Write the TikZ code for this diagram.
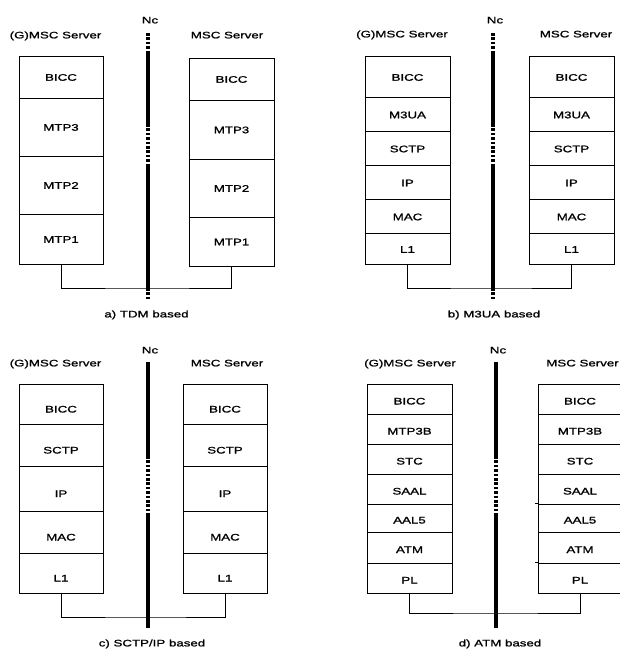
\documentclass[tikz,border=0pt]{standalone}
\usepackage{fontspec}
\setmainfont{Liberation Sans}[FakeStretch=1.4, FakeBold=1.2]
\tikzset{
  txt/.style={font=\fontsize{9.5}{11}\selectfont, inner sep=0pt, text height=6.8pt, text depth=0pt},
  layer/.style={txt, draw, line width=0.9pt},
  conn/.style={line width=0.9pt},
  nc/.style={line width=3.5pt},
  ncdash/.style={line width=3.5pt, dash pattern=on 2.6pt off 1.8pt},
}
% #1 prefix, #2 x centre, #3 width, #4 text height, #5 list top/bottom/text
\newcommand\layerstack[5]{%
  \foreach \t/\b/\s [count=\i] in {#5} {
    \node[layer, minimum width=#3, minimum height={\b-\t}, text height=#4] (#1\i) at (#2, {(\t+\b)/2}) {\s};
  }}
\begin{document}
\begin{tikzpicture}[x=1pt, y=-1pt]
\useasboundingbox (0,0) rectangle (620,650);
\clip (0,0) rectangle (620,650);

% ---------------- a) TDM based ----------------
\node[txt] (aTL) at (55.5,35) {(G)MSC Server};
\node[txt] (aTR) at (227,35) {MSC Server};
\node[txt] (aNc) at (150,20) {Nc};
\layerstack{aL}{61}{84}{7.5pt}{56/98/BICC,98/156/MTP3,156/214/MTP2,214/264/MTP1}
\layerstack{aR}{231.5}{85}{7.5pt}{58/100/BICC,100/159/MTP3,159/217/MTP2,217/266/MTP1}
\coordinate (aJ) at (148,288);
\draw[conn] (aL4.south) |- (aJ) -| (aR4.south);
\draw[ncdash] (148,33) -- (148,52);
\draw[nc] (148,52) -- (148,124);
\draw[ncdash] (148,124) -- (148,166);
\draw[nc] (148,166) -- (148,288);
\draw[ncdash] (148,288) -- (148,299);
\node[txt] (aCap) at (146.5,314) {a) TDM based};

% ---------------- b) M3UA based ----------------
\node[txt] (bTL) at (402,34) {(G)MSC Server};
\node[txt] (bTR) at (576,34) {MSC Server};
\node[txt] (bNc) at (495,20) {Nc};
\layerstack{bL}{407.5}{85}{8.5pt}{56/97/BICC,97/131/M3UA,131/165/SCTP,165/199/IP,199/233/MAC,233/264/L1}
\layerstack{bR}{571.5}{85}{8.5pt}{56/97/BICC,97/131/M3UA,131/165/SCTP,165/199/IP,199/233/MAC,233/264/L1}
\coordinate (bJ) at (493,288);
\draw[conn] (bL6.south) |- (bJ) -| (bR6.south);
\draw[ncdash] (493,33) -- (493,52);
\draw[nc] (493,52) -- (493,124);
\draw[ncdash] (493,124) -- (493,166);
\draw[nc] (493,166) -- (493,288);
\draw[ncdash] (493,288) -- (493,299);
\node[txt] (bCap) at (494,314) {b) M3UA based};

% ---------------- c) SCTP/IP based ----------------
\node[txt] (cTL) at (55.5,363) {(G)MSC Server};
\node[txt] (cTR) at (227,363) {MSC Server};
\node[txt] (cNc) at (150,350) {Nc};
\layerstack{cL}{61}{84}{17pt}{384/424/BICC,424/466/SCTP,466/511/IP,511/553/MAC,553/593/L1}
\layerstack{cR}{225}{84}{17pt}{384/424/BICC,424/466/SCTP,466/511/IP,511/553/MAC,553/593/L1}
\coordinate (cJ) at (148,617);
\draw[conn] (cL5.south) |- (cJ) -| (cR5.south);
\draw[nc] (148,362) -- (148,456);
\draw[ncdash] (148,456) -- (148,514);
\draw[nc] (148,514) -- (148,628);
\node[txt] (cCap) at (152,643) {c) SCTP/IP based};

% ---------------- d) ATM based ----------------
\node[txt] (dTL) at (410,363) {(G)MSC Server};
\node[txt] (dTR) at (582.5,363) {MSC Server};
\node[txt] (dNc) at (498,350) {Nc};
\layerstack{dL}{409.5}{85}{11pt}{384/414/BICC,414/444/MTP3B,444/474/STC,474/504/SAAL,504/532/AAL5,532/563/ATM,563/593/PL}
\layerstack{dR}{580}{84}{11pt}{384/414/BICC,414/444/MTP3B,444/474/STC,474/504/SAAL,504/532/AAL5,532/563/ATM,563/593/PL}
\draw[conn] (dR5.north west) -- ++(-3,0);
\draw[conn] (dR7.north west) -- ++(-3,0);
\coordinate (dJ) at (496,613);
\draw[conn] (dL7.south) |- (dJ) -| (dR7.south);
\draw[nc] (496,362) -- (496,456);
\draw[ncdash] (496,456) -- (496,514);
\draw[nc] (496,514) -- (496,628);
\node[txt] (dCap) at (500,643) {d) ATM based};
\end{tikzpicture}
\end{document}
